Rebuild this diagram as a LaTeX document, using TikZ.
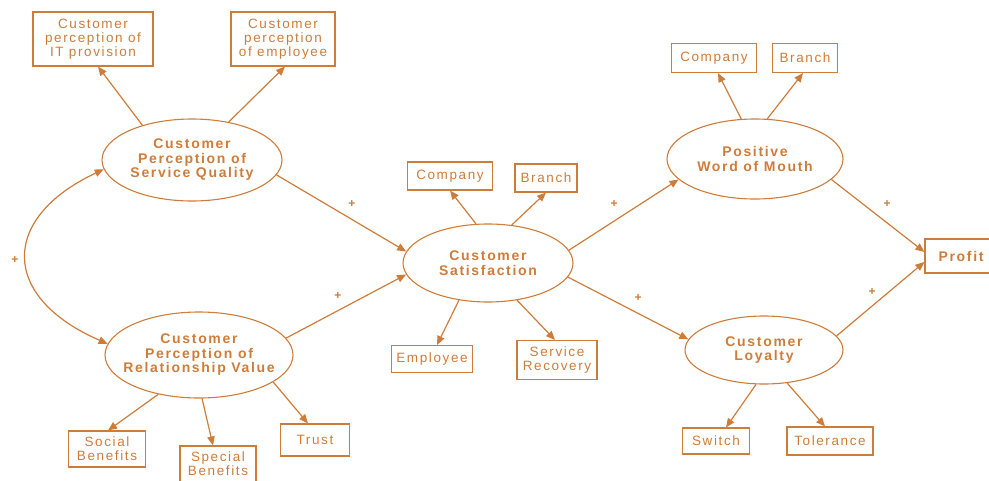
\documentclass[tikz,border=0pt]{standalone}
\usepackage{fontspec}
\setmainfont[LetterSpace=12]{Liberation Sans}
\usetikzlibrary{arrows.meta,shapes.geometric}
\definecolor{ink}{RGB}{206,124,58}
\begin{document}
\begin{tikzpicture}[x=1pt,y=-1pt,
  every node/.style={text=ink},
  construct/.style={draw=ink, line width=1.1pt, ellipse, inner xsep=-20pt, inner ysep=-8pt,
    align=center, font=\fontsize{14}{14.5}\selectfont\bfseries},
  measure/.style={draw=ink, line width=1.1pt, rectangle, inner sep=0pt, align=center,
    font=\fontsize{13.5}{13.8}\selectfont},
  link/.style={draw=ink, line width=1.2pt, -{Triangle[length=9pt,width=7.5pt]}},
  sign/.style={font=\fontsize{12}{12}\selectfont\bfseries}]
\useasboundingbox (0,0) rectangle (989,480);
\clip (0,0) rectangle (989,480);

% latent constructs
\node[construct, minimum width=180pt, minimum height=82pt] (sq) at (192,160)
  {Customer\\Perception of\\Service Quality};
\node[construct, minimum width=188pt, minimum height=86pt] (rv) at (199,355)
  {Customer\\Perception of\\Relationship Value};
\node[construct, minimum width=170pt, minimum height=78pt] (cs) at (488,263)
  {Customer\\Satisfaction};
\node[construct, minimum width=176pt, minimum height=80pt] (wom) at (755,159)
  {Positive\\Word of Mouth};
\node[construct, minimum width=158pt, minimum height=68pt] (loy) at (764,350)
  {Customer\\Loyalty};

% indicators
\node[measure, minimum width=120pt, minimum height=54pt] (itp) at (93,39)
  {Customer\\perception of\\IT provision};
\node[measure, minimum width=104pt, minimum height=54pt] (empp) at (283,39)
  {Customer\\perception\\of employee};
\node[measure, minimum width=85pt, minimum height=28pt] (cco) at (450,176) {Company};
\node[measure, minimum width=62pt, minimum height=28pt] (cbr) at (546,178) {Branch};
\node[measure, minimum width=81pt, minimum height=27pt] (cem) at (432,359) {Employee};
\node[measure, minimum width=80pt, minimum height=39pt] (srec) at (557,360) {Service\\Recovery};
\node[measure, minimum width=85pt, minimum height=29pt] (wco) at (714,58) {Company};
\node[measure, minimum width=65pt, minimum height=29pt] (wbr) at (805,58) {Branch};
\node[measure, minimum width=72pt, minimum height=34pt, font=\fontsize{14}{14}\selectfont\bfseries]
  (profit) at (961,256) {Profit};
\node[measure, minimum width=67pt, minimum height=26pt] (sw) at (716,441) {Switch};
\node[measure, minimum width=86pt, minimum height=28pt] (tol) at (830,441) {Tolerance};
\node[measure, minimum width=77pt, minimum height=36pt] (soc) at (107,449) {Social\\Benefits};
\node[measure, minimum width=76pt, minimum height=36pt] (spe) at (218,464) {Special\\Benefits};
\node[measure, minimum width=69pt, minimum height=32pt] (tru) at (315,440) {Trust};

% structural paths
\draw[link] (sq.-10) -- (cs.172);
\draw[link] (rv.11) -- (cs.-172);
\draw[link] (cs.9) -- (wom.-165);
\draw[link] (cs.-10) -- (loy.172);
\draw[link] (wom.-15) -- ([yshift=4pt]profit.west);
\draw[link] (loy.11) -- ([yshift=-6pt]profit.west);
\draw[draw=ink, line width=1.2pt, {Triangle[length=9pt,width=7.5pt]}-{Triangle[length=9pt,width=7.5pt]}]
  (sq.186) .. controls (0,218) and (0,297) .. (rv.173);

% measurement paths
\draw[link] (sq.145) -- ([xshift=5pt]itp.south);
\draw[link] (sq.46) -- ([xshift=2pt]empp.south);
\draw[link] (rv.-136) -- ([xshift=1pt]soc.north);
\draw[link] (rv.-86) -- ([xshift=-5pt]spe.north);
\draw[link] (rv.-20) -- ([xshift=-7pt]tru.north);
\draw[link] (cs.107) -- (cco.south);
\draw[link] (cs.58) -- (cbr.south);
\draw[link] (cs.-128) -- ([xshift=5pt]cem.north);
\draw[link] (cs.-52) -- ([xshift=-2pt]srec.north);
\draw[link] (wom.109) -- ([xshift=4pt]wco.south);
\draw[link] (wom.73) -- ([xshift=-2pt]wbr.south);
\draw[link] (loy.-103) -- ([xshift=10pt]sw.north);
\draw[link] (loy.-55) -- ([xshift=-5pt]tol.north);

% signs
\node[sign] (p1) at (15,260) {+};
\node[sign] (p2) at (352,204) {+};
\node[sign] (p3) at (338,296) {+};
\node[sign] (p4) at (614,204) {+};
\node[sign] (p5) at (638,298) {+};
\node[sign] (p6) at (887,204) {+};
\node[sign] (p7) at (872,292) {+};
\end{tikzpicture}
\end{document}
